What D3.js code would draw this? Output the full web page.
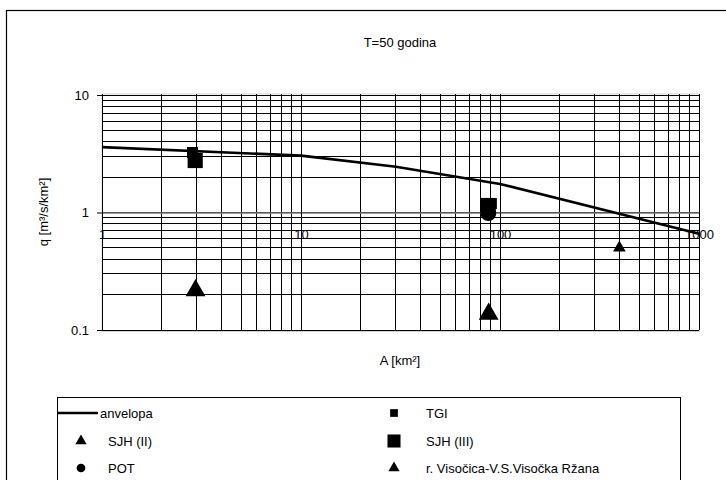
<!DOCTYPE html>
<html>
<head>
<meta charset="utf-8">
<script src="https://cdn.jsdelivr.net/npm/d3@7"></script>
<style>
  body { margin: 0; background: #fff; }
  svg { display: block; font-family: "Liberation Sans", Arial, sans-serif; }
  text { fill: #000; }
</style>
</head>
<body>
<svg id="chart" width="726" height="480"></svg>
<script>
// data
const anvelopaA = [1, 10, 30, 100, 1000];
const anvelopaQ = [3.6, 3.05, 2.45, 1.75, 0.66];
const tgiA = [2.85, 90.5];
const tgiQ = [3.24, 1.19];
const sjh2A = [2.95, 87.7];
const sjh2Q = [0.217, 0.137];
const sjh3A = [2.94, 86.9];
const sjh3Q = [2.77, 1.147];
const potA = [87.4];
const potQ = [0.99];
const visA = [398];
const visQ = [0.5];
const xTicks = [1, 10, 100, 1000];
const yTicks = [0.1, 1, 10];

const svg = d3.select('#chart');

const x = d3.scaleLog().domain([1, 1000]).range([102, 699]);
const y = d3.scaleLog().domain([0.1, 10]).range([330, 95]);

// outer frame (runs off the right and bottom)
svg.append('rect')
  .attr('x', 6.5).attr('y', 10.5)
  .attr('width', 800).attr('height', 600)
  .attr('fill', 'none').attr('stroke', '#000').attr('stroke-width', 1.2);

svg.append('text')
  .attr('x', 400).attr('y', 47)
  .attr('text-anchor', 'middle').attr('font-size', 13)
  .text('T=50 godina');

// plot area border
svg.append('rect')
  .attr('x', 102).attr('y', 94)
  .attr('width', 597.5).attr('height', 237.5)
  .attr('fill', 'none').attr('stroke', '#d4d4d4');

const grid = svg.append('g').attr('shape-rendering', 'crispEdges');
const xMinor = [];
const yMinor = [];
[1, 10, 100].forEach(p => { for (let k = 1; k <= 9; k++) xMinor.push(p * k); });
xMinor.push(1000);
[0.1, 1].forEach(p => { for (let k = 1; k <= 9; k++) yMinor.push(p * k); });
yMinor.push(10);

grid.selectAll('.vl')
  .data(xMinor)
  .enter()
  .append('line')
  .attr('x1', d => x(d)).attr('x2', d => x(d))
  .attr('y1', 94).attr('y2', 330)
  .attr('stroke', '#000').attr('stroke-width', 1);

grid.selectAll('.hl')
  .data(yMinor)
  .enter()
  .append('line')
  .attr('y1', d => y(d)).attr('y2', d => y(d))
  .attr('x1', 102).attr('x2', 699)
  .attr('stroke', '#000').attr('stroke-width', 1);

// y axis
const yAxis = d3.axisLeft(y)
  .tickValues(yTicks)
  .tickFormat(d => String(d))
  .tickSizeInner(5).tickSizeOuter(0).tickPadding(8);
const gy = svg.append('g').attr('transform', 'translate(102,0)').call(yAxis);
gy.selectAll('text').attr('font-size', 13).attr('font-family', '"Liberation Sans", Arial, sans-serif');
gy.select('.domain').attr('stroke', '#000');

// x axis crosses at q = 1
const xAxis = d3.axisBottom(x)
  .tickValues(xTicks)
  .tickFormat(d => String(d))
  .tickSizeInner(3).tickSizeOuter(0).tickPadding(14);
const gx = svg.append('g').attr('transform', `translate(0,${y(1)})`).call(xAxis);
gx.selectAll('text').attr('font-size', 13).attr('font-family', '"Liberation Sans", Arial, sans-serif');
gx.select('.domain').attr('stroke', '#777').attr('stroke-width', 1.5);

// axis titles
svg.append('text')
  .attr('transform', 'translate(48,212) rotate(-90)')
  .attr('text-anchor', 'middle').attr('font-size', 13)
  .text('q [m³/s/km²]');

svg.append('text')
  .attr('x', 400).attr('y', 365)
  .attr('text-anchor', 'middle').attr('font-size', 13)
  .text('A [km²]');

// envelope
const line = d3.line().x(d => x(d[0])).y(d => y(d[1]));
svg.append('path')
  .datum(anvelopaA.map((a, i) => [a, anvelopaQ[i]]))
  .attr('d', line)
  .attr('fill', 'none').attr('stroke', '#000').attr('stroke-width', 2.6);

function markers(A, Q, type, size) {
  const sym = d3.symbol().type(type).size(size);
  svg.append('g').selectAll('path')
    .data(A.map((a, i) => [a, Q[i]]))
    .enter()
    .append('path')
    .attr('d', sym)
    .attr('transform', d => `translate(${x(d[0])},${y(d[1])})`)
    .attr('fill', '#000');
}

markers(potA, potQ, d3.symbolCircle, 200);
markers(sjh3A, sjh3Q, d3.symbolSquare, 230);
markers(tgiA, tgiQ, d3.symbolSquare, 121);
markers(sjh2A, sjh2Q, d3.symbolTriangle, 170);
markers(visA, visQ, d3.symbolTriangle, 70);

// legend
const legend = svg.append('g');
legend.append('rect')
  .attr('x', 57.5).attr('y', 397.5)
  .attr('width', 623).attr('height', 120)
  .attr('fill', '#fff').attr('stroke', '#000');

const legendItems = [
  { name: 'anvelopa', col: 0, row: 0, kind: 'line' },
  { name: 'TGI', col: 1, row: 0, kind: d3.symbolSquare, size: 60 },
  { name: 'SJH (II)', col: 0, row: 1, kind: d3.symbolTriangle, size: 55 },
  { name: 'SJH (III)', col: 1, row: 1, kind: d3.symbolSquare, size: 170 },
  { name: 'POT', col: 0, row: 2, kind: d3.symbolCircle, size: 60 },
  { name: 'r. Visočica-V.S.Visočka Ržana', col: 1, row: 2, kind: d3.symbolTriangle, size: 55 }
];
const rowY = [413, 441, 468];

legendItems.forEach(it => {
  const cy = rowY[it.row];
  const mx = it.col === 0 ? 81 : 394;
  const tx = it.col === 0 ? 108 : 426;
  if (it.kind === 'line') {
    legend.append('line')
      .attr('x1', 58).attr('x2', 98).attr('y1', cy).attr('y2', cy)
      .attr('stroke', '#000').attr('stroke-width', 2.6);
    legend.append('text')
      .attr('x', 100).attr('y', cy + 5).attr('font-size', 13)
      .text(it.name);
  } else {
    legend.append('path')
      .attr('d', d3.symbol().type(it.kind).size(it.size))
      .attr('transform', `translate(${mx},${cy})`)
      .attr('fill', '#000');
    legend.append('text')
      .attr('x', tx).attr('y', cy + 5).attr('font-size', 13)
      .text(it.name);
  }
});
</script>
</body>
</html>
